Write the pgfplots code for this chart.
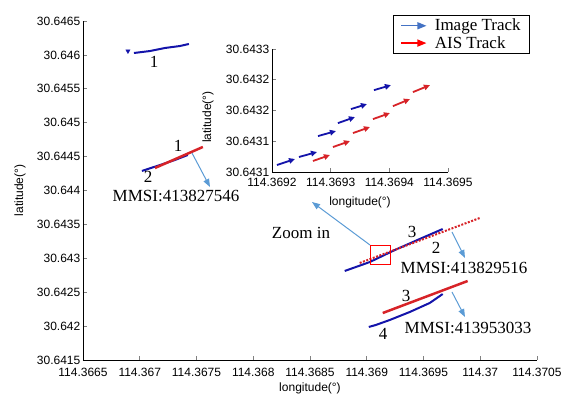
\documentclass[border=0pt]{standalone}
\usepackage{fontspec}
\setmainfont{Liberation Sans}
\newfontfamily\timesfont{Liberation Serif}
\usepackage{pgfplots}
\pgfplotsset{compat=1.18}
\usetikzlibrary{arrows.meta}
\definecolor{trackblue}{RGB}{20,20,170}
\definecolor{trackred}{RGB}{215,35,40}
\definecolor{annblue}{RGB}{91,155,213}
\definecolor{legblue}{RGB}{68,114,196}
\definecolor{legred}{RGB}{255,0,0}
% Longitudes are stored as (lon - 114.36), latitudes as (lat - 30.64), in degrees,
% so that the FPU keeps enough precision; tick labels give the full values.
\begin{document}
\begin{tikzpicture}[x=1pt,y=1pt]
\begin{axis}[
  at={(83pt,36pt)}, anchor=south west,
  scale only axis, width=454pt, height=339pt,
  xmin=0.0065, xmax=0.0105, ymin=0.0015, ymax=0.0065,
  axis x line*=bottom, axis y line*=left,
  axis line style={line width=0.6pt},
  tick align=inside, major tick length=4pt, tick style={line width=0.6pt},
  scaled ticks=false,
  xtick={0.0065,0.007,0.0075,0.008,0.0085,0.009,0.0095,0.01,0.0105},
  xticklabels={114.3665,114.367,114.3675,114.368,114.3685,114.369,114.3695,114.37,114.3705},
  ytick={0.0015,0.002,0.0025,0.003,0.0035,0.004,0.0045,0.005,0.0055,0.006,0.0065},
  yticklabels={30.6415,30.642,30.6425,30.643,30.6435,30.644,30.6445,30.645,30.6455,30.646,30.6465},
  tick label style={font=\fontsize{12}{14}\selectfont},
  yticklabel style={inner xsep=2.5pt},
  xticklabel style={yshift=-4.5pt},
  xlabel={longitude(°)}, ylabel={latitude(°)},
  label style={font=\fontsize{12}{14}\selectfont},
  xlabel style={at={(axis description cs:0.5,-0.0826)},anchor=center},
  ylabel style={at={(axis description cs:-0.1388,0.5)},anchor=center},
  legend style={at={(axis description cs:0.9846,1.017)}, anchor=north east,
    draw=black, line width=0.8pt, font=\timesfont\fontsize{17}{19}\selectfont,
    inner xsep=7pt, inner ysep=1.5pt, cells={anchor=west}},
  legend image code/.code={\draw[line width=1.4pt,-{Triangle[length=9pt,width=7pt]}] (0pt,0pt) -- (25pt,0pt);\path (31pt,0pt);},
]
\addlegendimage{legblue}\addlegendentry{Image Track}
\addlegendimage{legred}\addlegendentry{AIS Track}
% track 1
\addplot[trackblue, line width=2pt, forget plot] coordinates {
 (0.006949,0.006028) (0.007090,0.006057) (0.007222,0.006102) (0.007354,0.006131) (0.007433,0.006161)};
\addplot[trackblue, only marks, mark=triangle*, mark size=2.5pt, mark options={rotate=180}, forget plot] coordinates {(0.006896,0.006057)};
% track 2
\addplot[trackblue, line width=2pt, forget plot] coordinates {
 (0.007019,0.004288) (0.007178,0.004376) (0.007310,0.004450) (0.007424,0.004524)};
\addplot[trackred, line width=2.5pt, forget plot] coordinates {
 (0.007134,0.004332) (0.007556,0.004642)};
% track 3
\addplot[trackblue, line width=2pt, forget plot] coordinates {
 (0.008806,0.002813) (0.009027,0.002945) (0.009247,0.003122) (0.009467,0.003285) (0.009669,0.003432)};
\addplot[trackred, line width=2pt, dash pattern=on 2pt off 1.5pt, forget plot] coordinates {
 (0.008938,0.002931) (0.009995,0.003594)};
% track 4
\addplot[trackblue, line width=2pt, forget plot] coordinates {
 (0.009018,0.001987) (0.009079,0.002016) (0.009203,0.002090) (0.009379,0.002208) (0.009555,0.002341) (0.009669,0.002473)};
\addplot[trackred, line width=2.5pt, forget plot] coordinates {
 (0.009141,0.002193) (0.009889,0.002665)};
\end{axis}

\begin{axis}[
  at={(272pt,224pt)}, anchor=south west,
  scale only axis, width=176pt, height=123pt,
  xmin=0.0092, xmax=0.0095, ymin=0.0031, ymax=0.0033,
  axis x line*=bottom, axis y line*=left,
  axis line style={line width=0.6pt},
  tick align=inside, major tick length=4pt, tick style={line width=0.6pt},
  scaled ticks=false,
  xtick={0.0092,0.0093,0.0094,0.0095},
  xticklabels={114.3692,114.3693,114.3694,114.3695},
  ytick={0.0031,0.00315,0.0032,0.00325,0.0033},
  yticklabels={30.6431,30.6431,30.6432,30.6432,30.6433},
  tick label style={font=\fontsize{12}{14}\selectfont},
  yticklabel style={inner xsep=2.5pt},
  xticklabel style={yshift=-3pt},
  xlabel={longitude(°)}, ylabel={latitude(°)},
  label style={font=\fontsize{12}{14}\selectfont},
  xlabel style={at={(axis description cs:0.5,-0.244)},anchor=center},
  ylabel style={at={(axis description cs:-0.364,0.447)},anchor=center},
]
\addplot[trackblue, line width=1.8pt, -{Triangle[length=6pt,width=5.5pt]},
  quiver={u=\thisrow{u}, v=\thisrow{v}}] table[x=x,y=y] {
x y u v
0.0092085 0.0031114 0.0000307 0.0000097
0.0092460 0.0031244 0.0000307 0.0000081
0.0092784 0.0031584 0.0000306 0.0000082
0.0093124 0.0031795 0.0000290 0.0000098
0.0093346 0.0032023 0.0000272 0.0000081
0.0093738 0.0032331 0.0000289 0.0000081
};
\addplot[trackred, line width=1.8pt, -{Triangle[length=6pt,width=5.5pt]},
  quiver={u=\thisrow{u}, v=\thisrow{v}}] table[x=x,y=y] {
x y u v
0.0092698 0.0031179 0.0000290 0.0000097
0.0093039 0.0031406 0.0000290 0.0000097
0.0093380 0.0031633 0.0000290 0.0000098
0.0093721 0.0031860 0.0000289 0.0000098
0.0094061 0.0032071 0.0000290 0.0000114
0.0094402 0.0032299 0.0000290 0.0000113
};
\end{axis}

% annotations
\begin{scope}[every node/.style={font=\timesfont\fontsize{17}{19}\selectfont, inner sep=0pt}]
\node at (154,334) {1};
\node at (178,250) {1};
\node at (148,219) {2};
\node at (176,200) {MMSI:413827546};
\node at (301,163) {Zoom in};
\node at (412,164) {3};
\node at (436,148) {2};
\node at (464,128) {MMSI:413829516};
\node at (406,100) {3};
\node at (383,62) {4};
\node at (468,68) {MMSI:413953033};
\end{scope}
\begin{scope}[annblue, line width=1pt, -{Triangle[length=8pt,width=6pt]}]
\draw (192,243) -- (210,209);
\draw (452,164) -- (465,138);
\draw (452,104) -- (465,79);
\draw (370,151) -- (312,194);
\end{scope}
\draw[red, line width=0.8pt] (370,132) rectangle (390,151);

\pgfresetboundingbox
\useasboundingbox (0,0) rectangle (563,396);
\end{tikzpicture}
\end{document}
